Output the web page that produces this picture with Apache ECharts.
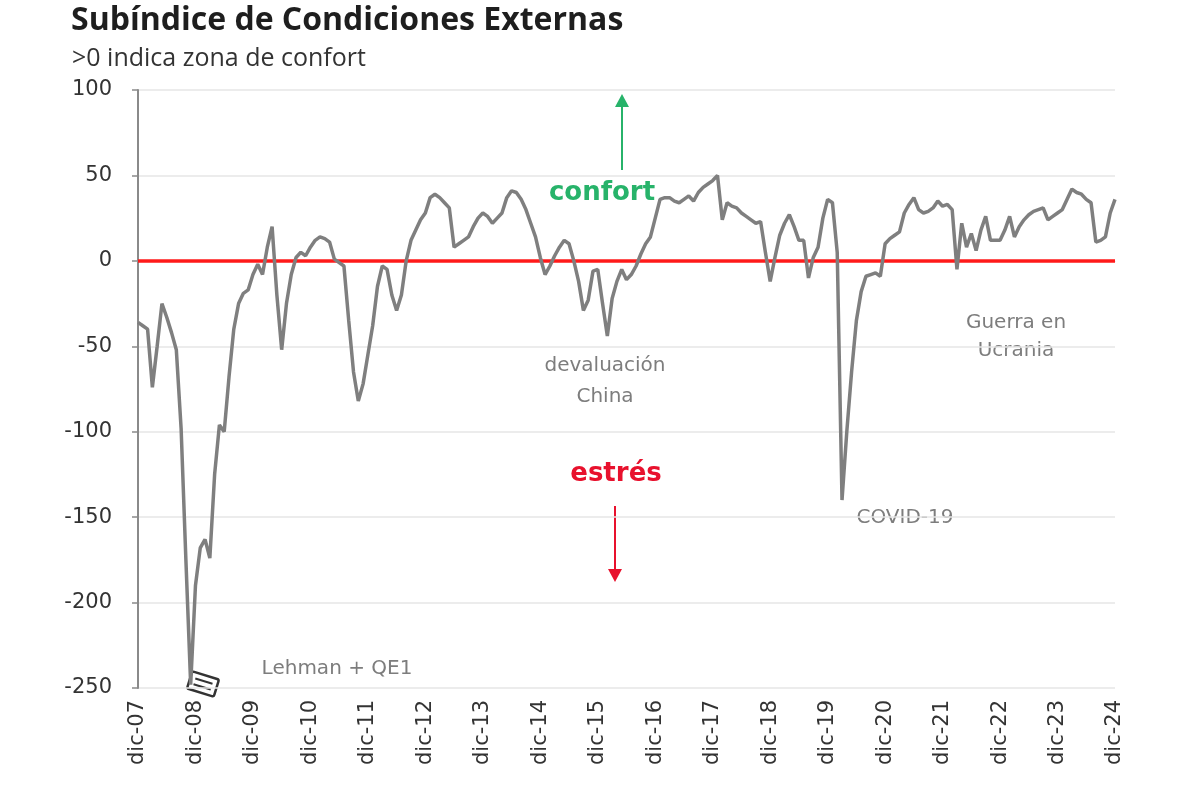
<!DOCTYPE html>
<html>
<head>
<meta charset="utf-8">
<script src="https://cdn.jsdelivr.net/npm/echarts@6/dist/echarts.min.js"></script>
<style>html,body{margin:0;padding:0;background:#fff;}#c{width:1200px;height:800px;}</style>
</head>
<body>
<div id="c"></div>
<script>
// Months: dic-07 .. dic-24 (monthly)
const monthNames = ['ene','feb','mar','abr','may','jun','jul','ago','sep','oct','nov','dic'];
const startYear = 2007, startMonth = 11, nMonths = 205;
const categories = [];
for (let i = 0; i < nMonths; i++) {
  const m = (startMonth + i) % 12;
  const y = startYear + Math.floor((startMonth + i) / 12);
  categories.push(monthNames[m] + '-' + String(y % 100).padStart(2, '0'));
}

// Subíndice de Condiciones Externas (monthly values)
const values = [
  -36,-38,-40,-74,-50,-25,-33,-42,-52,-98,-175,-248,
  -190,-168,-163,-174,-125,-96,-100,-68,-40,-25,-19,-17,
  -8,-2,-8,8,20,-20,-52,-25,-8,2,5,3,
  8,12,14,13,11,1,-1,-3,-35,-65,-82,-72,
  -55,-38,-15,-3,-5,-20,-29,-20,0,12,18,24,
  28,37,39,37,34,31,8,10,12,14,20,25,
  28,26,22,25,28,37,41,40,36,30,22,14,
  2,-8,-3,3,8,12,10,0,-12,-29,-23,-6,
  -5,-25,-44,-22,-12,-5,-11,-8,-3,4,10,14,
  25,36,37,37,35,34,36,38,35,40,43,45,
  47,50,24,34,32,31,28,26,24,22,23,5,
  -12,2,15,22,27,20,12,12,-10,2,8,25,
  36,34,5,-140,-100,-65,-35,-18,-9,-8,-7,-9,
  10,13,15,17,28,33,37,30,28,29,31,35,
  32,33,30,-5,22,8,16,6,18,26,12,12,
  12,18,26,14,20,24,27,29,30,31,24,26,
  28,30,36,42,40,39,36,34,11,12,14,28,
  36
];

const yTicks = { min: -250, max: 100, interval: 50 };
const zeroLine = 0;

const chart = echarts.init(document.getElementById('c'));
const annFont = 'DejaVu Sans';
const grey = '#7d7d7d';
chart.setOption({
  backgroundColor: '#ffffff',
  animation: false,
  title: [
    { text: 'Subíndice de Condiciones Externas', left: 66, top: 0,
      textStyle: { fontFamily: 'Open Sans', fontWeight: 'bold', fontSize: 32, color: '#1e1e1e' } },
    { text: '>0 indica zona de confort', left: 67, top: 41,
      textStyle: { fontFamily: 'Open Sans', fontWeight: 'normal', fontSize: 25, color: '#333' } }
  ],
  grid: { left: 138, right: 85, top: 90, bottom: 112, containLabel: false },
  xAxis: {
    type: 'category', data: categories, boundaryGap: false,
    axisLine: { show: true, lineStyle: { color: '#d9d9d9' } },
    axisTick: { show: false },
    axisLabel: {
      interval: 11, rotate: 90, margin: 12, fontFamily: annFont, fontSize: 21, color: '#333'
    },
    splitLine: { show: false }
  },
  yAxis: {
    type: 'value', min: yTicks.min, max: yTicks.max, interval: yTicks.interval,
    axisLine: { show: true, lineStyle: { color: '#8a8a8a', width: 2 } },
    axisTick: { show: true, length: 6, lineStyle: { color: '#8a8a8a', width: 1.5 } },
    axisLabel: { fontFamily: annFont, fontSize: 21, color: '#333', margin: 26 },
    splitLine: { show: true, lineStyle: { color: '#e6e6e6', width: 1.5 } }
  },
  series: [{
    type: 'line', data: values, showSymbol: false, smooth: false,
    lineStyle: { color: '#7f7f7f', width: 3.5 },
    itemStyle: { color: '#7f7f7f' },
    z: 3,
    markLine: {
      silent: true, symbol: 'none', label: { show: false },
      lineStyle: { color: '#ff1a1a', width: 3.5, type: 'solid' },
      data: [{ yAxis: zeroLine }],
      z: 2
    }
  }],
  graphic: [
    // green arrow (confort)
    { type: 'line', shape: { x1: 622, y1: 170, x2: 622, y2: 104 }, style: { stroke: '#27b36a', lineWidth: 2 } },
    { type: 'polygon', shape: { points: [[622, 94], [615, 107], [629, 107]] }, style: { fill: '#27b36a' } },
    { type: 'text', x: 602, y: 180, style: { text: 'confort', font: 'bold 26px "DejaVu Sans"', fill: '#27b36a', align: 'center', verticalAlign: 'top' } },
    // red arrow (estrés)
    { type: 'line', shape: { x1: 615, y1: 506, x2: 615, y2: 572 }, style: { stroke: '#e8112d', lineWidth: 2 } },
    { type: 'polygon', shape: { points: [[615, 582], [608, 569], [622, 569]] }, style: { fill: '#e8112d' } },
    { type: 'text', x: 616, y: 461, style: { text: 'estrés', font: 'bold 26px "DejaVu Sans"', fill: '#e8112d', align: 'center', verticalAlign: 'top' } },
    // labels
    { type: 'text', x: 605, y: 350, style: { text: 'devaluación\nChina', font: '20px "DejaVu Sans"', fill: grey, align: 'center', verticalAlign: 'top', lineHeight: 31 } },
    { type: 'text', x: 905, y: 508, style: { text: 'COVID-19', font: '20px "DejaVu Sans"', fill: grey, align: 'center', verticalAlign: 'top' } },
    { type: 'text', x: 1016, y: 309, style: { text: 'Guerra en\nUcrania', font: '20px "DejaVu Sans"', fill: grey, align: 'center', verticalAlign: 'top', lineHeight: 28 } },
    { type: 'text', x: 337, y: 659, style: { text: 'Lehman + QE1', font: '20px "DejaVu Sans"', fill: grey, align: 'center', verticalAlign: 'top' } },
    // broken-axis style box marker at the Lehman low
    { type: 'group', x: 203, y: 684, rotation: -0.3, z: 10, children: [
      { type: 'rect', shape: { x: -14, y: -9, width: 28, height: 18, r: 2 }, style: { fill: '#fff', stroke: '#333', lineWidth: 2.5 } },
      { type: 'line', shape: { x1: -9, y1: -3, x2: 9, y2: -3 }, style: { stroke: '#333', lineWidth: 2 } },
      { type: 'line', shape: { x1: -9, y1: 3, x2: 9, y2: 3 }, style: { stroke: '#333', lineWidth: 2 } }
    ] }
  ]
});
</script>
</body>
</html>
